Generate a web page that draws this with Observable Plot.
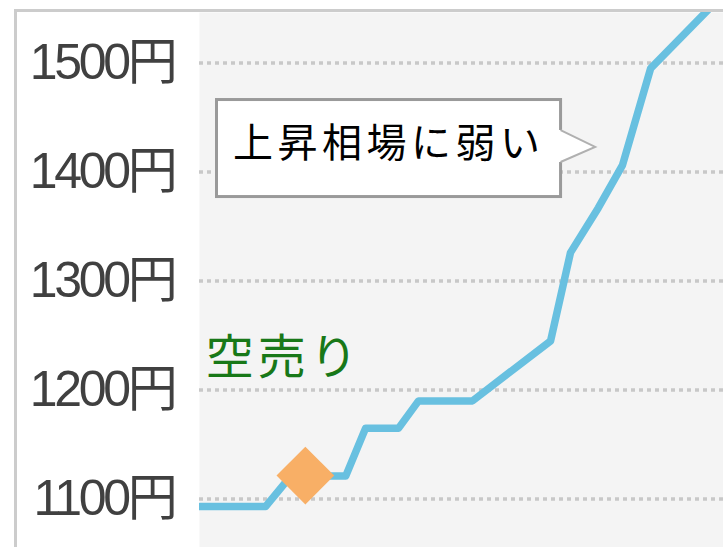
<!DOCTYPE html>
<html><head><meta charset="utf-8">
<script src="https://cdn.jsdelivr.net/npm/d3@7"></script>
<script src="https://cdn.jsdelivr.net/npm/@observablehq/plot@0.6"></script>
<style>
html,body{margin:0;padding:0;background:#fff;overflow:hidden;width:723px;height:547px;}
#wrap{position:absolute;left:14px;top:9px;border-left:3px solid #ccc;border-top:3px solid #ccc;background:#fff;}
svg{display:block;}
</style></head><body><div id="wrap"></div>
<script>
// price path (x = day index, y = price in yen)
const days  = [0, 12.6, 17.4, 27.9, 31.7, 38.0, 41.8, 52.1, 67.0, 70.8, 76.1, 80.7, 86.1, 97.1];
const price = [1093, 1093, 1121, 1121, 1165, 1165, 1190, 1190, 1245, 1326, 1367, 1406, 1495, 1549];
const yTicks = [1100, 1200, 1300, 1400, 1500];
const markerDay = [20.2];
const markerPrice = [1121.5];
const labelText = ["空売り"];
const labelDay = [1.2];
const labelPrice = [1229];
const calloutText = ["上昇相場に弱い"];
const calloutDay = [6.4];
const calloutPrice = [1425.5];
const calloutBox = {x1: 3.34, x2: 69.0, y1: 1377, y2: 1466};
const pointerTip = {x: 75.6, y: 1422.5};
const pointerBase = [1438, 1408.7];

const series = days.map((d, i) => ({day: d, price: price[i]}));
const markers = markerDay.map((d, i) => ({day: d, price: markerPrice[i]}));

const cjk = "'Noto Sans CJK JP', sans-serif";

function pointerMark(index, scales) {
  const x = scales.x, y = scales.y;
  const bx = x(calloutBox.x2), ax = x(pointerTip.x), ay = y(pointerTip.y);
  const y1 = y(pointerBase[0]), y2 = y(pointerBase[1]);
  const g = d3.create("svg:g");
  g.append("path").attr("d", `M${bx-3},${y1}L${bx},${y1}L${ax},${ay}L${bx},${y2}L${bx-3},${y2}Z`).attr("fill", "#fff");
  g.append("path").attr("d", `M${bx},${y1}L${ax},${ay}L${bx},${y2}`).attr("fill", "none").attr("stroke", "#b0b0b0").attr("stroke-width", 2);
  return g.node();
}

const chart = Plot.plot({
  width: 706,
  height: 535,
  marginLeft: 182,
  marginRight: 0,
  marginTop: 0,
  marginBottom: 0,
  style: {background: "#fff", color: "#404040", overflow: "hidden"},
  x: {domain: [0, 100], axis: null},
  y: {domain: [1055.5, 1546.3], axis: null},
  marks: [
    Plot.frame({fill: "#f4f4f4", stroke: null}),
    Plot.gridY(yTicks, {stroke: "#c8c8c8", strokeOpacity: 1, strokeWidth: 3.5, strokeDasharray: "4,4"}),
    Plot.axisY(yTicks, {tickFormat: d => d + "円", tickSize: 0, tickPadding: 25, fontSize: 50, color: "#404040", label: null,
      fontFamily: "'Liberation Sans', 'Noto Sans CJK JP', sans-serif"}),
    Plot.text(labelText, {x: () => labelDay[0], y: () => labelPrice[0], text: d => d, fontSize: 48, fill: "#187818",
      textAnchor: "start", lineAnchor: "middle", fontFamily: cjk}),
    Plot.line(series, {x: "day", y: "price", stroke: "#68c0e0", strokeWidth: 7.5, strokeLinejoin: "round", clip: true}),
    Plot.dot(markers, {x: "day", y: "price", symbol: "diamond2", r: 26, fill: "#f8af66", stroke: null}),
    Plot.rect([calloutBox], {x1: "x1", x2: "x2", y1: "y1", y2: "y2", fill: "#fff", stroke: "#9a9a9a", strokeWidth: 3}),
    pointerMark,
    Plot.text(calloutText, {x: () => calloutDay[0], y: () => calloutPrice[0], text: d => d, fontSize: 40, fill: "#000",
      textAnchor: "start", lineAnchor: "middle", fontFamily: cjk})
  ]
});

d3.select(chart).selectAll("text").each(function() {
  const t = this.textContent;
  if (t === calloutText[0]) d3.select(this).attr("letter-spacing", 4.5);
  if (t === labelText[0]) d3.select(this).attr("letter-spacing", 4);
  if (t.endsWith("円")) d3.select(this).attr("letter-spacing", -3.3);
});
document.getElementById("wrap").appendChild(chart);
</script>
</body></html>
